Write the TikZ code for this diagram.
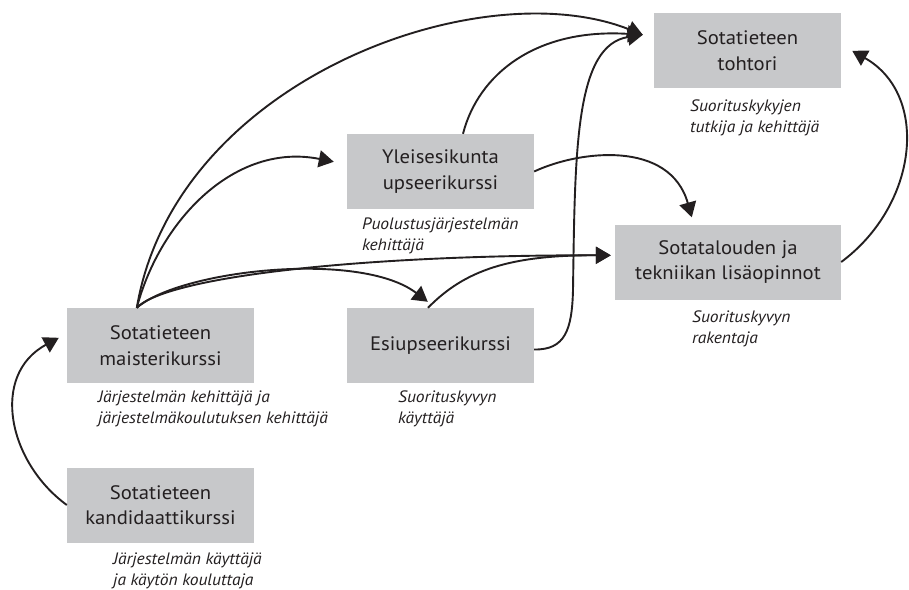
\documentclass[tikz,border=0pt]{standalone}
\usepackage{fontspec}
\setmainfont[FakeStretch=1.06]{PT Sans}
\usetikzlibrary{arrows.meta,calc}
\definecolor{boxgray}{RGB}{199,200,202}
\definecolor{ink}{RGB}{35,31,32}
\begin{document}
\begin{tikzpicture}[x=1pt,y=1pt,
  box/.style={fill=boxgray, minimum width=187pt, minimum height=75pt,
    inner sep=0pt, align=center, font=\fontsize{19.5}{25.5}\selectfont, text=ink},
  role/.style={anchor=base west, inner sep=0pt, align=left,
    font=\fontsize{16.5}{20.5}\selectfont\itshape, text=ink},
  link/.style={draw=ink, line width=1.9pt,
    -{Triangle[length=15pt,width=17pt]}},
  plain/.style={draw=ink, line width=1.9pt}]
\useasboundingbox (0,0) rectangle (909,-589);

% course boxes
\node[box] (toh) at (747.5,-50.5) {Sotatieteen\\tohtori};
\node[box] (yle) at (440.5,-171.5) {Yleisesikunta\\upseerikurssi};
\node[box, minimum width=226pt] (sot) at (728,-262) {Sotatalouden ja\\tekniikan lisäopinnot};
\node[box] (mai) at (160.5,-345.5) {Sotatieteen\\maisterikurssi};
\node[box] (esi) at (440.5,-345.5) {Esiupseerikurssi};
\node[box] (kan) at (160.5,-505) {Sotatieteen\\kandidaattikurssi};

% role captions (anchored on the baseline of the last line)
\node[role] (tohr) at (690,-132) {Suorituskykyjen\\tutkija ja kehittäjä};
\node[role] (yler) at (362,-250) {Puolustusjärjestelmän\\kehittäjä};
\node[role] (sotr) at (692,-343) {Suorituskyvyn\\rakentaja};
\node[role] (mair) at (98,-423) {Järjestelmän kehittäjä ja\\järjestelmäkoulutuksen kehittäjä};
\node[role] (esir) at (398,-423) {Suorituskyvyn\\käyttäjä};
\node[role] (kanr) at (113,-585) {Järjestelmän käyttäjä\\ja käytön kouluttaja};

% arrow ends
\coordinate (tohIn) at ($(toh.north west)+(-11,-22)$);
\coordinate (tohR) at ($(toh.north east)+(11,-38)$);
\coordinate (sotIn) at ($(sot.north west)+(-4,-31)$);
\coordinate (sotTop) at ($(sot.north west)+(77,7)$);
\coordinate (yleIn) at ($(yle.north west)+(-13,-28)$);
\coordinate (esiIn) at ($(esi.north west)+(81,6)$);
\coordinate (maiIn) at ($(mai.north west)+(-8,-30)$);
\coordinate (maiOut) at ($(mai.north west)+(70,0)$);
\coordinate (yleOut) at ($(yle.north)+(22.5,0)$);
\coordinate (esiOut) at ($(esi.north)+(-12.5,0)$);
\coordinate (esiR) at ($(esi.east)+(0,-4)$);
\coordinate (esiBend) at (573,-290);

% connectors
\draw[link] (kan.west) .. controls (8,-462) and (-10,-375) .. (maiIn);
\draw[link] (maiOut) .. controls (175,-80) and (480,30) .. (tohIn);
\draw[link] (maiOut) .. controls (160,-220) and (235,-142) .. (yleIn);
\draw[link] (maiOut) .. controls (165,-278) and (350,-255) .. (sotIn);
\draw[link] (maiOut) .. controls (180,-270) and (360,-250) .. (esiIn);
\draw[link] (yleOut) .. controls (478,-75) and (535,-28) .. (tohIn);
\draw[link] (yle.east) .. controls (580,-150) and (670,-140) .. (sotTop);
\draw[link] (esiOut) .. controls (465,-270) and (510,-255) .. (sotIn);
\draw[plain] (esiR) .. controls (565,-350) and (572,-330) .. (esiBend);
\draw[link] (esiBend) .. controls (575,-150) and (575,-45) .. (tohIn);
\draw[link] (sot.east) .. controls (918,-205) and (930,-95) .. (tohR);
\end{tikzpicture}
\end{document}
